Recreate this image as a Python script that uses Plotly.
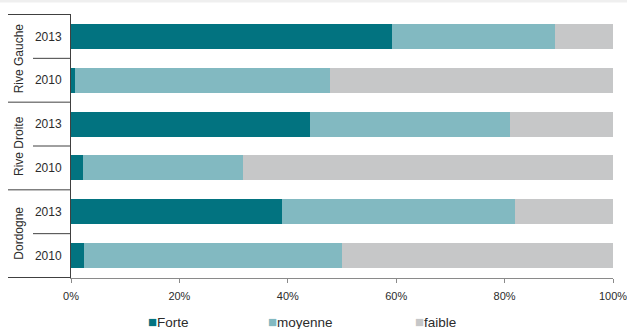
import plotly.graph_objects as go

groups = ["Rive Gauche", "Rive Gauche", "Rive Droite", "Rive Droite", "Dordogne", "Dordogne"]
years = ["2013", "2010", "2013", "2010", "2013", "2010"]
forte = [59.2, 0.8, 44.1, 2.2, 38.9, 2.4]
moyenne = [30.1, 47.0, 36.9, 29.5, 43.0, 47.6]
faible = [10.7, 52.2, 19.0, 68.3, 18.1, 50.0]
x_ticks = [0, 20, 40, 60, 80, 100]
x_ticktext = ["0%", "20%", "40%", "60%", "80%", "100%"]
series_names = ["Forte", "moyenne", "faible"]
series_colors = ["#027380", "#82B9C1", "#C6C7C8"]

ids = [g + " " + y for g, y in zip(groups, years)]

fig = go.Figure()
for name, vals, col in zip(series_names, [forte, moyenne, faible], series_colors):
    fig.add_trace(go.Bar(y=ids, x=vals, name=name, orientation="h",
                         marker=dict(color=col, line=dict(width=0)),
                         hoverinfo="skip", showlegend=False))

L, R, T, B = 71, 14, 14, 51
W, H = 627, 329
pw = W - L - R
ph = H - T - B

def px_x(p):
    return (p - L) / pw

def px_y(p):
    return (H - B - p) / ph

fig.update_layout(
    width=W, height=H,
    margin=dict(l=L, r=R, t=T, b=B, autoexpand=False),
    barmode="stack",
    bargap=0.43,
    plot_bgcolor="white",
    paper_bgcolor="white",
    font=dict(family="Liberation Sans, Arial, sans-serif", size=12, color="#2b2b2b"),
    showlegend=False,
    xaxis=dict(range=[0, 100], tickvals=x_ticks, ticktext=x_ticktext, showgrid=False,
               zeroline=False, showline=True, linecolor="#8a8a8a", linewidth=1,
               ticks="outside", ticklen=4, tickcolor="#8a8a8a", automargin=False,
               ticklabeloverflow="allow", ticklabelstandoff=4,
               tickfont=dict(size=11, color="#2b2b2b"), fixedrange=True),
    yaxis=dict(type="category", categoryorder="array", categoryarray=ids,
               autorange="reversed", tickvals=ids, ticktext=years, showgrid=False,
               zeroline=False, showline=True, linecolor="#404040", linewidth=1,
               ticks="", ticklabelstandoff=6, automargin=False,
               tickfont=dict(size=12, color="#2b2b2b"), fixedrange=True),
)

shapes = []
# top gray strip
shapes.append(dict(type="rect", xref="paper", yref="paper", x0=px_x(0), x1=px_x(W),
                   y0=px_y(2.5), y1=px_y(0), fillcolor="#efefef", line=dict(width=0), layer="below"))
# group boundaries
for yb in [-0.5, 1.5, 3.5, 5.5]:
    shapes.append(dict(type="line", xref="paper", yref="y", x0=px_x(8), x1=0,
                       y0=yb, y1=yb, line=dict(color="#404040", width=1)))
# within-group boundaries
for yb in [0.5, 2.5, 4.5]:
    shapes.append(dict(type="line", xref="paper", yref="y", x0=px_x(33), x1=0,
                       y0=yb, y1=yb, line=dict(color="#404040", width=1)))
fig.update_layout(shapes=shapes)

ann = []
# group labels
for i in range(0, len(ids), 2):
    ann.append(dict(text=groups[i], xref="paper", yref="y", x=px_x(19), y=i + 0.5,
                    showarrow=False, textangle=-90, xanchor="center", yanchor="middle",
                    font=dict(size=12, color="#2b2b2b")))
# legend (as text with coloured squares)
legend_x = [146, 266, 413]
for name, col, lx in zip(series_names, series_colors, legend_x):
    ann.append(dict(text="<span style='color:%s;font-size:15px'>■</span>%s" % (col, name),
                    xref="paper", yref="paper", x=px_x(lx), y=px_y(321.5),
                    xanchor="left", yanchor="middle", showarrow=False,
                    font=dict(size=13.5, color="#2b2b2b")))
fig.update_layout(annotations=ann)

fig.write_html("out.html", config={"displayModeBar": False},
               post_script="document.body.style.margin='0';document.body.style.padding='0';")
